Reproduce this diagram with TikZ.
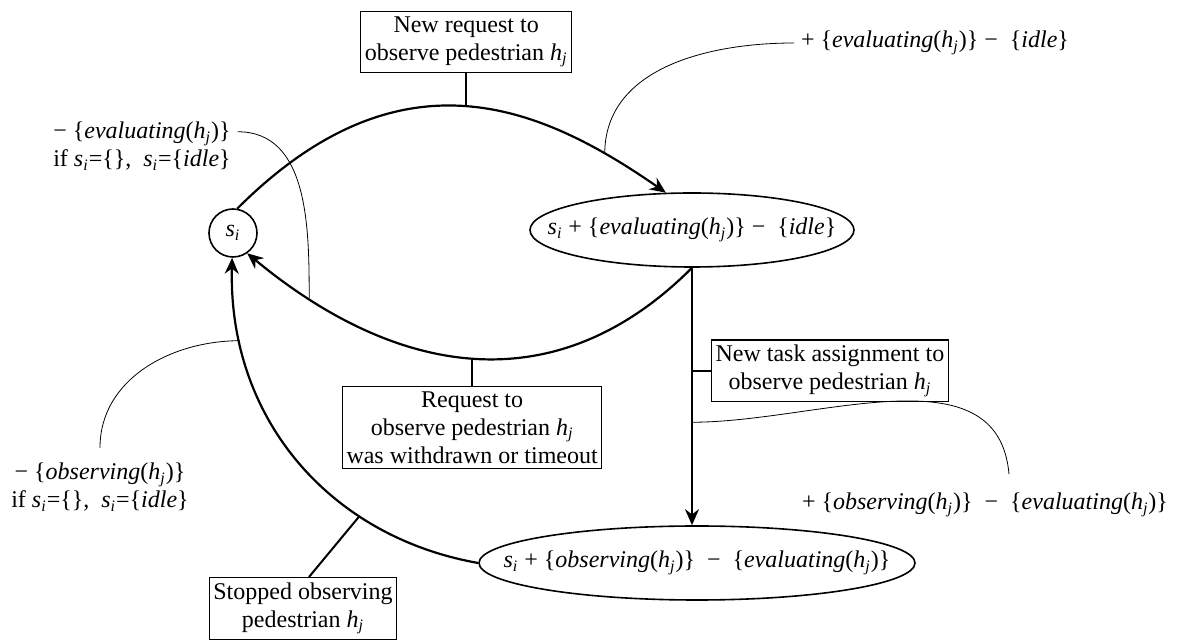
\documentclass[tikz,border=0pt]{standalone}
\usepackage{fontspec}
\setmainfont{LiberationSerif}[Extension=.ttf, UprightFont=*-Regular, ItalicFont=*-Italic, BoldFont=*-Bold, BoldItalicFont=*-BoldItalic]
\usetikzlibrary{arrows.meta,positioning,shapes.geometric}

\newcommand{\hj}{\textit{h}\textsubscript{\textit{j}}}
\newcommand{\sii}{\textit{s}\textsubscript{\textit{i}}}

\tikzset{
  every node/.style={font=\rmfamily\fontsize{12}{14}\selectfont},
  state/.style={draw, thick, ellipse, minimum height=37pt, inner xsep=-40pt, inner ysep=0pt},
  box/.style={draw, semithick, align=center, inner xsep=2pt, inner ysep=2.5pt},
  trans/.style={line width=1.1pt, -{Stealth[length=8pt,width=7pt]}},
  link/.style={line width=1pt},
  remark/.style={thin}
}

\begin{document}
\begin{tikzpicture}[x=0.5pt,y=-0.5pt]
  \useasboundingbox (0,0) rectangle (1195,640);

  \node[circle, draw, thick, minimum size=24pt, inner sep=0pt] (si) at (233,233) {\sii};
  \node[state, minimum width=162pt] (eval) at (692,230)
    {\sii{} + \{\textit{evaluating}(\hj)\} −\ \ \{\textit{idle}\}};
  \node[state, minimum width=218pt] (obs) at (697,563)
    {\sii{} + \{\textit{observing}(\hj)\}\ \ −\ \ \{\textit{evaluating}(\hj)\}};

  % transitions
  \draw[trans] (si.80) .. controls (401,45) and (541,106) .. (eval.125)
    coordinate[pos=0.5] (topA) coordinate[pos=0.84] (topB);
  \draw[trans] (eval.south) .. controls (553,407) and (393,374) .. (si.-55)
    coordinate[pos=0.5] (lowA) coordinate[pos=0.86] (lowB);
  \draw[trans] (eval.south) -- (eval.south |- obs.north)
    coordinate[pos=0.40] (vertA) coordinate[pos=0.60] (vertB);
  \draw[trans] (obs.west) .. controls (331,537) and (228,420) .. (si.-92)
    coordinate[pos=0.3] (leftA) coordinate[pos=0.82] (leftB);

  % events
  \node[box, above=17pt of topA] (newreq) {New request to\\observe pedestrian \hj};
  \node[box, below=14pt of lowA] (withdrawn) {Request to\\observe pedestrian \hj\\was withdrawn or timeout};
  \node[box, right=9.5pt of vertA] (task) {New task assignment to\\observe pedestrian \hj};
  \node[box, anchor=north] (stopped) at (303,577) {Stopped observing\\pedestrian \hj};

  \draw[link] (newreq) -- (topA);
  \draw[link] (withdrawn) -- (lowA);
  \draw[link] (task) -- (vertA);
  \draw[link] ([xshift=3pt]stopped.north) -- (leftA);

  % state changes
  \node (evalplus) at (935,43) {+ \{\textit{evaluating}(\hj)\} −\ \ \{\textit{idle}\}};
  \draw[remark] (evalplus.west) to[out=180,in=90] (topB);

  \node[align=center] (evalminus) at (142,146)
    {− \{\textit{evaluating}(\hj)\}\\if \sii=\{\},\ \ \sii=\{\textit{idle}\}};
  \draw[remark] ([yshift=-8.5pt]evalminus.north east) to[out=0,in=90] (lowB);

  \node[align=center] (obsminus) at (100,487)
    {− \{\textit{observing}(\hj)\}\\if \sii=\{\},\ \ \sii=\{\textit{idle}\}};
  \draw[remark] ([yshift=4pt]obsminus.north) to[out=90,in=180] (leftB);

  \node (obsplus) at (985,505) {+ \{\textit{observing}(\hj)\}\ \ −\ \ \{\textit{evaluating}(\hj)\}};
  \draw[remark] (vertB) to[out=0,in=95] ([xshift=12pt,yshift=6pt]obsplus.north);
\end{tikzpicture}
\end{document}
